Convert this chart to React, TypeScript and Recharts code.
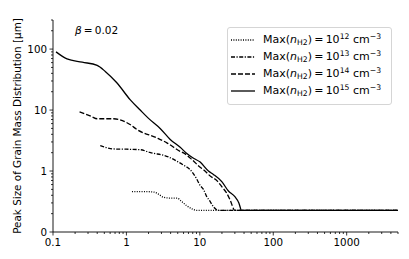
import { LineChart, Line, XAxis, YAxis, Legend, Label } from 'recharts'

// x: time-like axis, y: peak grain size [μm]; one series per Max(n_H2)
const n12X = [1.19, 1.8, 2.4, 2.8, 3.2, 4.0, 4.9, 5.6, 6.6, 7.8, 9.1, 5000]
const n12Y = [0.46, 0.46, 0.45, 0.41, 0.37, 0.36, 0.36, 0.32, 0.27, 0.24, 0.226, 0.226]

const n13X = [0.44, 0.55, 0.67, 1.0, 1.54, 2.0, 2.34, 3.0, 3.74, 4.86, 6.0, 7.4, 9.0, 10.1, 11.2, 12.4, 13.5, 15.3, 17.9, 5000]
const n13Y = [2.6, 2.4, 2.3, 2.28, 2.24, 2.05, 1.95, 1.85, 1.7, 1.45, 1.25, 1.05, 0.75, 0.58, 0.5, 0.38, 0.33, 0.26, 0.226, 0.226]

const n14X = [0.23, 0.33, 0.4, 0.67, 1.12, 1.39, 2.6, 3.56, 5.4, 6.0, 8.0, 10.1, 11.2, 14, 17, 20, 23.3, 26, 30, 5000]
const n14Y = [9.3, 7.9, 7.2, 7.2, 5.8, 4.8, 3.5, 2.9, 2.1, 1.98, 1.5, 1.15, 1.05, 0.82, 0.7, 0.55, 0.43, 0.33, 0.226, 0.226]

const n15X = [0.11, 0.155, 0.25, 0.4, 0.515, 0.74, 1.13, 1.54, 2.0, 2.88, 3.95, 5.4, 6.65, 8.0, 10.1, 13.1, 15.3, 19.9, 24.5, 30, 34, 37, 5000]
const n15Y = [90, 69, 61, 54, 43, 28, 14.7, 10, 7.3, 5.0, 3.3, 2.45, 1.94, 1.65, 1.4, 1.0, 0.88, 0.67, 0.47, 0.38, 0.3, 0.226, 0.226]

const exponents = [12, 13, 14, 15]

const xMajor = [0.1, 1, 10, 100, 1000]
const xTicks = [
  0.1, 0.2, 0.3, 0.4, 0.5, 0.6, 0.7, 0.8, 0.9,
  1, 2, 3, 4, 5, 6, 7, 8, 9,
  10, 20, 30, 40, 50, 60, 70, 80, 90,
  100, 200, 300, 400, 500, 600, 700, 800, 900,
  1000, 2000, 3000, 4000, 5000,
]
const yMajor = [0.1, 1, 10, 100]
const yMajorLabels = ['0', '1', '10', '100']
const yTicks = [
  0.1, 0.2, 0.3, 0.4, 0.5, 0.6, 0.7, 0.8, 0.9,
  1, 2, 3, 4, 5, 6, 7, 8, 9,
  10, 20, 30, 40, 50, 60, 70, 80, 90,
  100, 200, 300,
]

const FONT = '"DejaVu Sans", sans-serif'
const DASHES = ['1 1.4', '4 1.5 1.2 1.5', '5 2', undefined]

const toPoints = (xs: number[], ys: number[]) => xs.map((x, i) => ({ x, y: ys[i] }))
const series = [toPoints(n12X, n12Y), toPoints(n13X, n13Y), toPoints(n14X, n14Y), toPoints(n15X, n15Y)]

function XTick({ x, y, payload }: any) {
  const major = xMajor.includes(payload.value)
  return (
    <g>
      <line x1={x} x2={x} y1={y} y2={y + (major ? 3.5 : 2)} stroke="#000" strokeWidth={0.8} />
      {major && (
        <text x={x} y={y + 14} textAnchor="middle" fontSize={10.3} fontFamily={FONT} fill="#000">
          {String(payload.value)}
        </text>
      )}
    </g>
  )
}

function YTick({ x, y, payload }: any) {
  const idx = yMajor.indexOf(payload.value)
  const major = idx >= 0
  return (
    <g>
      <line x1={x} x2={x - (major ? 3.5 : 2)} y1={y} y2={y} stroke="#000" strokeWidth={0.8} />
      {major && (
        <text x={x - 6} y={y} dy="0.36em" textAnchor="end" fontSize={10.3} fontFamily={FONT} fill="#000">
          {yMajorLabels[idx]}
        </text>
      )}
    </g>
  )
}

function LegendBox() {
  return (
    <div
      style={{
        width: 165,
        height: 78,
        boxSizing: 'border-box',
        border: '1px solid #d5d5d5',
        borderRadius: 3,
        background: 'rgba(255,255,255,0.8)',
        padding: '3px 0 0 3px',
        fontFamily: FONT,
        fontSize: 11,
        color: '#000',
      }}
    >
      {exponents.map((e, i) => (
        <div key={e} style={{ display: 'flex', alignItems: 'center', height: 17, lineHeight: '17px' }}>
          <svg width={24} height={6} style={{ display: 'block' }}>
            <line x1={0} x2={24} y1={3} y2={3} stroke="#000" strokeWidth={1.3} strokeDasharray={DASHES[i]} />
          </svg>
          <span style={{ marginLeft: 8, whiteSpace: 'nowrap' }}>
            Max(<i>n</i>
            <span style={{ fontSize: 7.7, position: 'relative', top: 2.5 }}>H2</span>)
            {'\u2009=\u2009'}10
            <span style={{ fontSize: 7.7, position: 'relative', top: -4 }}>{e}</span> cm
            <span style={{ fontSize: 7.7, position: 'relative', top: -4 }}>{'\u22123'}</span>
          </span>
        </div>
      ))}
    </div>
  )
}

export default function App() {
  return (
    <div style={{ position: 'absolute', left: 0, top: 0, width: 409, height: 259, background: '#fff' }}>
      <LineChart width={409} height={259} margin={{ top: 20, right: 11, bottom: 0, left: 0 }}>
        <XAxis
          type="number"
          dataKey="x"
          scale="log"
          domain={[0.1, 5000]}
          allowDataOverflow
          ticks={xTicks}
          interval={0}
          tick={<XTick />}
          tickLine={false}
          tickSize={0}
          tickMargin={0}
          height={27}
          axisLine={{ stroke: '#000', strokeWidth: 0.9 }}
        />
        <XAxis xAxisId="top" orientation="top" type="number" domain={[0, 1]} height={0} tick={false} tickLine={false} axisLine={{ stroke: '#000', strokeWidth: 0.9 }} />
        <YAxis
          type="number"
          dataKey="y"
          scale="log"
          domain={[0.1, 300]}
          allowDataOverflow
          ticks={yTicks}
          interval={0}
          tick={<YTick />}
          tickLine={false}
          tickSize={0}
          tickMargin={0}
          width={53}
          axisLine={{ stroke: '#000', strokeWidth: 0.9 }}
        >
          <Label
            content={() => (
              <text x={21} y={126} transform="rotate(-90 21 126)" textAnchor="middle" fontSize={10.4} fontFamily={FONT} fill="#000">
                Peak Size of Grain Mass Distribution [μm]
              </text>
            )}
          />
        </YAxis>
        <YAxis yAxisId="right" orientation="right" type="number" domain={[0, 1]} width={0} tick={false} tickLine={false} axisLine={{ stroke: '#000', strokeWidth: 0.9 }} />
        {series.map((data, i) => (
          <Line
            key={exponents[i]}
            data={data}
            dataKey="y"
            type="monotone"
            stroke="#000"
            strokeWidth={1.3}
            strokeDasharray={DASHES[i]}
            dot={false}
            activeDot={false}
            isAnimationActive={false}
          />
        ))}
        <Legend
          verticalAlign="middle"
          align="center"
          content={() => <LegendBox />}
          wrapperStyle={{ position: 'absolute', left: 227, top: 27, width: 165, height: 78 }}
        />
      </LineChart>
      <div style={{ position: 'absolute', left: 75, top: 24, fontFamily: FONT, fontSize: 10.5, whiteSpace: 'nowrap' }}>
        <i>β</i>{'\u2009=\u20090.02'}
      </div>
    </div>
  )
}
